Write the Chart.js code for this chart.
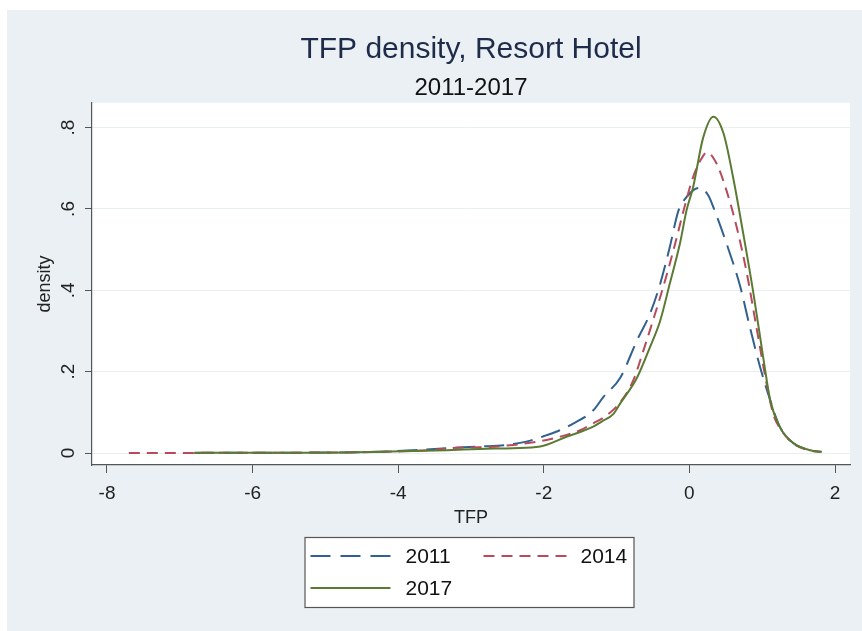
<!DOCTYPE html>
<html>
<head>
<meta charset="utf-8">
<script src="https://cdn.jsdelivr.net/npm/chart.js@4.4.1/dist/chart.umd.min.js"></script>
<style>
  html, body { margin: 0; padding: 0; background: #ffffff; }
  #wrap { position: relative; width: 862px; height: 631px; }
</style>
</head>
<body>
<div id="wrap"><canvas id="c" width="862" height="631"></canvas></div>
<script>
// ---- data ----
const seriesNames = ['2011', '2014', '2017'];

const tfp2011 = [-6.8,-5.5,-4.5,-4.25,-3.79,-3.33,-2.88,-2.51,-2.24,-1.96,-1.78,-1.59,-1.32,-1.18,-0.95,-0.72,-0.54,-0.40,-0.27,-0.15,-0.04,0.07,0.146,0.26,0.33,0.51,0.70,0.83,0.97,1.11,1.24,1.43,1.66,1.80];
const dens2011 = [0.001,0.001,0.002,0.003,0.007,0.012,0.016,0.020,0.028,0.044,0.056,0.073,0.105,0.138,0.185,0.277,0.343,0.417,0.506,0.596,0.629,0.648,0.652,0.633,0.604,0.515,0.408,0.31,0.212,0.13,0.065,0.024,0.007,0.003];

const tfp2014 = [-7.7,-7.0,-6.5,-5.5,-4.5,-4.0,-3.5,-3.2,-2.88,-2.42,-1.96,-1.78,-1.5,-1.32,-1.14,-0.95,-0.77,-0.63,-0.50,-0.36,-0.22,-0.08,0.05,0.16,0.24,0.375,0.51,0.65,0.79,0.92,1.06,1.15,1.24,1.43,1.66,1.80];
const dens2014 = [0.0,0.0,0.001,0.001,0.002,0.004,0.008,0.013,0.014,0.020,0.032,0.040,0.056,0.073,0.092,0.125,0.179,0.253,0.326,0.408,0.498,0.596,0.678,0.722,0.739,0.711,0.645,0.555,0.441,0.31,0.171,0.097,0.062,0.023,0.006,0.003];

const tfp2017 = [-6.8,-6.0,-5.0,-4.25,-3.33,-2.88,-2.42,-2.05,-1.69,-1.32,-1.2,-1.05,-0.95,-0.72,-0.54,-0.40,-0.27,-0.13,-0.04,0.05,0.19,0.33,0.47,0.60,0.74,0.88,1.02,1.11,1.24,1.43,1.66,1.82];
const dens2017 = [0.0,0.001,0.001,0.003,0.007,0.010,0.012,0.016,0.040,0.065,0.078,0.095,0.122,0.185,0.261,0.326,0.416,0.515,0.596,0.653,0.776,0.827,0.785,0.678,0.539,0.392,0.228,0.13,0.065,0.024,0.007,0.003];

const xTicks = [-8, -6, -4, -2, 0, 2];
const yTicks = [0, 0.2, 0.4, 0.6, 0.8];

// ---- styles ----
const FONT = "'Liberation Sans', Arial, sans-serif";
const colors = ['#32608f', '#b84a5c', '#5b7a33'];
const dashes = [[20, 9], [11, 7], []];
const legendDashes = [[20, 10], [11, 7], []];

function pts(xs, ys) { return xs.map((x, i) => ({ x: x, y: ys[i] })); }
const seriesData = [pts(tfp2011, dens2011), pts(tfp2014, dens2014), pts(tfp2017, dens2017)];

const bgPlugin = {
  id: 'bgPlugin',
  beforeDraw(chart) {
    const ctx = chart.ctx, a = chart.chartArea;
    ctx.save();
    ctx.fillStyle = '#ffffff';
    ctx.fillRect(0, 0, chart.width, chart.height);
    ctx.fillStyle = '#eaf0f3';
    ctx.fillRect(7, 10, chart.width - 7, chart.height - 10);
    ctx.fillStyle = '#ffffff';
    ctx.fillRect(a.left, a.top, a.right - a.left, a.bottom - a.top);
    ctx.restore();
  }
};

const legendPlugin = {
  id: 'stataLegend',
  afterDraw(chart) {
    const ctx = chart.ctx, a = chart.chartArea;
    const cx = (a.left + a.right) / 2 - 2;
    const w = 329, h = 70;
    const left = cx - w / 2, top = a.bottom + 72;
    ctx.save();
    ctx.fillStyle = '#ffffff';
    ctx.fillRect(left, top, w, h);
    ctx.strokeStyle = '#555555';
    ctx.lineWidth = 1.2;
    ctx.strokeRect(left + 0.5, top + 0.5, w, h);
    const slots = [
      { x0: left + 6, x1: left + 86, tx: left + 101, y: top + 19 },
      { x0: left + 179, x1: left + 264, tx: left + 276, y: top + 19 },
      { x0: left + 6, x1: left + 86, tx: left + 101, y: top + 51 }
    ];
    chart.data.datasets.forEach((ds, i) => {
      const s = slots[i];
      ctx.beginPath();
      ctx.setLineDash(legendDashes[i]);
      ctx.strokeStyle = ds.borderColor;
      ctx.lineWidth = 2;
      ctx.moveTo(s.x0, s.y);
      ctx.lineTo(s.x1, s.y);
      ctx.stroke();
      ctx.setLineDash([]);
      ctx.fillStyle = '#111111';
      ctx.font = '21px ' + FONT;
      ctx.textAlign = 'left';
      ctx.textBaseline = 'middle';
      ctx.fillText(ds.label, s.tx, s.y + 1);
    });
    ctx.restore();
  }
};

new Chart(document.getElementById('c'), {
  type: 'line',
  data: {
    datasets: seriesNames.map((name, i) => ({
      label: name,
      data: seriesData[i],
      borderColor: colors[i],
      borderWidth: 2,
      borderDash: dashes[i],
      pointRadius: 0,
      fill: false,
      cubicInterpolationMode: 'monotone',
      order: 3 - i
    }))
  },
  options: {
    responsive: false,
    animation: false,
    layout: { padding: { left: 7, right: 12, top: 10, bottom: 96 } },
    plugins: {
      legend: { display: false },
      tooltip: { enabled: false },
      title: {
        display: true,
        text: 'TFP density, Resort Hotel',
        fullSize: false,
        color: '#1e2b4a',
        font: { family: FONT, size: 30, weight: 'normal', lineHeight: 1.2 },
        padding: { top: 22, bottom: 0 }
      },
      subtitle: {
        display: true,
        text: '2011-2017',
        fullSize: false,
        color: '#111111',
        font: { family: FONT, size: 24, weight: 'normal', lineHeight: 1.2 },
        padding: { top: 6, bottom: 0 }
      }
    },
    scales: {
      x: {
        type: 'linear',
        min: -8.206,
        max: 2.206,
        afterBuildTicks: (s) => { s.ticks = xTicks.map(v => ({ value: v })); },
        afterFit: (s) => { s.height = 70; },
        ticks: {
          color: '#222222',
          font: { family: FONT, size: 19 },
          padding: 9,
          maxRotation: 0,
          callback: (v) => String(v)
        },
        grid: { drawOnChartArea: false, drawTicks: true, tickLength: 8, tickColor: '#555555', tickWidth: 1 },
        border: { display: true, color: '#555555', width: 1.2 },
        title: {
          display: true,
          text: 'TFP',
          color: '#222222',
          font: { family: FONT, size: 18, lineHeight: 1.2 },
          padding: { top: 0, bottom: 6 }
        }
      },
      y: {
        type: 'linear',
        min: -0.0294,
        max: 0.861,
        afterBuildTicks: (s) => { s.ticks = yTicks.map(v => ({ value: v })); },
        afterFit: (s) => { s.width = 85; },
        ticks: {
          color: '#222222',
          font: { family: FONT, size: 19 },
          padding: 8,
          minRotation: 90,
          maxRotation: 90,
          crossAlign: 'center',
          callback: (v) => (v === 0 ? '0' : String(v).replace(/^0/, ''))
        },
        grid: { drawOnChartArea: true, color: '#e9eef1', lineWidth: 1, drawTicks: true, tickLength: 7, tickColor: '#555555', tickWidth: 1 },
        border: { display: true, color: '#555555', width: 1.2 },
        title: {
          display: true,
          text: 'density',
          color: '#222222',
          font: { family: FONT, size: 18, lineHeight: 1.2 },
          padding: { top: 27, bottom: 0 }
        }
      }
    }
  },
  plugins: [bgPlugin, legendPlugin]
});
</script>
</body>
</html>
